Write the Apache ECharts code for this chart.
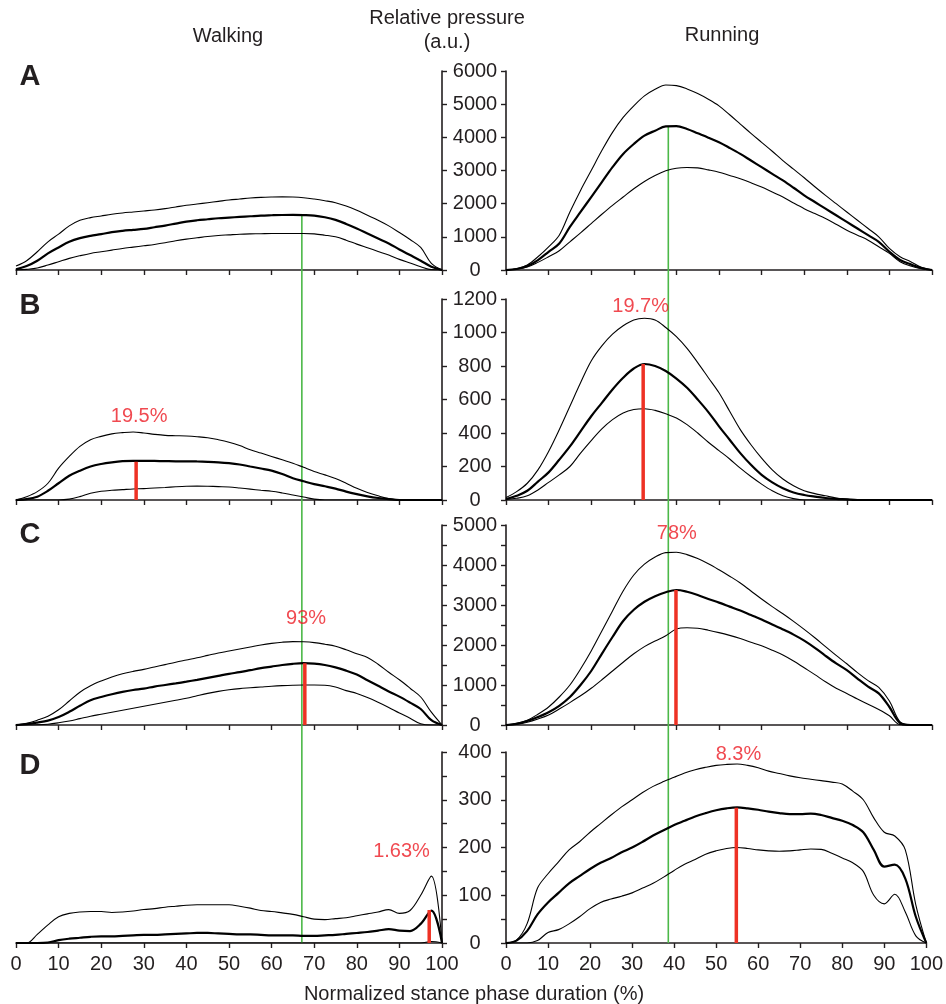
<!DOCTYPE html>
<html>
<head>
<meta charset="utf-8">
<script src="https://cdn.jsdelivr.net/npm/echarts@6/dist/echarts.min.js"></script>
<style>
html, body { margin: 0; padding: 0; background: #fff; }
#chart { width: 946px; height: 1004px; }
</style>
</head>
<body>
<div id="chart"></div>
<script>
// normalized stance phase (%)
var X = [0,2.5,5,7.5,10,12.5,15,17.5,20,22.5,25,27.5,30,32.5,35,37.5,40,42.5,45,47.5,50,52.5,55,57.5,60,62.5,65,67.5,70,72.5,75,77.5,80,82.5,85,87.5,90,92.5,95,97.5,100];

// A - walking (upper, mean, lower)
var wAu = [120,280,550,850,1080,1330,1500,1580,1630,1680,1720,1750,1780,1810,1850,1900,1950,1990,2030,2070,2110,2140,2170,2190,2200,2205,2200,2180,2140,2090,2030,1930,1800,1650,1500,1330,1130,920,680,200,0];
var wAm = [20,120,280,500,680,850,960,1030,1080,1140,1180,1210,1240,1290,1340,1400,1460,1500,1530,1560,1580,1600,1620,1640,1650,1658,1660,1655,1640,1590,1510,1390,1250,1100,950,800,620,450,280,100,0];
var wAl = [0,20,60,150,250,350,430,500,550,600,650,690,730,770,820,880,930,970,1010,1040,1060,1080,1090,1095,1100,1100,1100,1100,1090,1050,1000,900,780,670,560,450,320,210,100,10,0];
// A - running
var rAu = [0,40,150,400,700,1050,1750,2400,3000,3600,4150,4600,4950,5250,5450,5580,5560,5460,5320,5150,4950,4680,4400,4120,3850,3580,3300,3040,2780,2510,2250,2000,1750,1500,1250,1000,650,400,250,80,0];
var rAm = [0,30,120,300,550,800,1300,1750,2200,2650,3100,3500,3800,4050,4200,4330,4340,4250,4120,3990,3850,3680,3500,3300,3100,2900,2700,2480,2250,2050,1850,1650,1450,1250,1050,850,550,300,170,60,0];
var rAl = [0,30,90,230,400,580,850,1120,1400,1680,1950,2200,2450,2670,2850,2990,3070,3090,3080,3020,2950,2850,2750,2630,2500,2350,2200,2020,1850,1700,1550,1380,1200,1050,900,700,500,250,120,40,0];

// B - walking
var wBu = [0,20,50,100,190,260,320,360,380,395,402,406,400,392,386,384,382,378,372,360,345,325,300,280,260,240,220,195,170,150,128,100,70,45,25,8,0,0,0,0,0];
var wBm = [0,5,20,55,100,145,175,200,215,225,232,234,234,233,232,231,231,230,228,225,220,212,200,188,175,155,130,112,95,82,68,50,35,22,12,5,0,0,0,0,0];
var wBl = [0,0,0,0,0,5,20,40,52,58,62,66,68,72,75,79,82,83,82,80,78,72,65,58,52,42,30,18,5,0,0,0,0,0,0,0,0,0,0,0,0];
// B - running
var rBu = [15,50,100,180,290,420,560,700,830,920,990,1040,1075,1085,1075,1030,975,905,820,730,640,530,420,330,250,180,125,85,55,38,25,12,5,0,0,0,0,0,0,0,0];
var rBm = [5,25,55,110,165,240,320,410,500,580,660,730,785,812,800,770,725,670,600,525,440,360,280,210,150,105,70,45,30,20,12,7,4,0,0,0,0,0,0,0,0];
var rBl = [3,10,25,60,105,150,200,280,355,425,480,520,540,545,535,515,490,450,400,345,295,245,190,140,95,55,25,8,0,0,0,0,0,0,0,0,0,0,0,0,0];

// C - walking
var wCu = [0,40,120,220,380,600,820,980,1100,1200,1280,1340,1390,1450,1510,1570,1625,1680,1740,1800,1850,1900,1950,2000,2040,2070,2085,2080,2060,2020,1970,1880,1780,1690,1520,1320,1130,920,700,320,0];
var wCm = [0,20,60,110,200,330,480,620,700,770,830,875,910,960,1000,1040,1083,1130,1180,1230,1280,1320,1370,1420,1460,1500,1530,1545,1535,1500,1440,1360,1260,1120,980,840,710,560,400,120,0];
var wCl = [0,0,5,20,55,100,160,220,270,320,370,420,470,520,570,620,667,730,790,840,880,910,930,950,970,985,995,1000,1000,995,950,860,790,690,570,440,300,170,30,0,0];
// C - running
var rCu = [0,40,120,270,450,700,1000,1400,1850,2350,2850,3350,3750,4020,4200,4310,4320,4260,4160,4030,3880,3720,3550,3350,3150,2960,2780,2590,2390,2180,1960,1740,1530,1310,1110,940,600,80,0,0,0];
var rCm = [0,30,100,200,320,480,700,1000,1350,1780,2200,2600,2880,3080,3220,3320,3375,3330,3250,3150,3060,2960,2860,2750,2640,2510,2390,2260,2110,1930,1730,1540,1370,1160,960,790,450,50,0,0,0];
var rCl = [0,20,70,150,250,400,560,730,920,1130,1350,1570,1780,1960,2100,2230,2400,2430,2420,2370,2310,2240,2160,2070,1980,1870,1750,1600,1430,1260,1080,920,790,650,520,390,230,10,0,0,0];

// D - walking
var wDu = [0,0,18,38,55,62,65,66,66,64,65,67,70,72,75,77,79,80,80,80,80,77,73,68,66,63,60,55,50,49,51,53,57,61,65,70,62,68,100,140,0];
var wDm = [0,0,0,1,6,9,11,13,14,14,15,16,17,17,18,19,20,21,21,20,19,18,18,17,16,16,16,15,15,16,17,19,21,23,26,29,26,25,40,68,0];
var wDl = [0,0,0,0,0,0,0,0,0,0,0,0,0,0,0,0,0,0,0,0,0,0,0,0,0,0,0,0,0,0,0,0,0,0,0,0,0,0,0,3,0];
// D - running
var rDu = [0,6,40,115,145,170,195,212,232,250,268,285,300,315,328,338,347,356,363,368,372,374,375,372,367,360,355,350,346,343,340,337,333,318,300,262,232,224,195,80,0];
var rDm = [0,5,25,60,85,105,125,140,155,168,178,190,200,212,225,236,247,256,265,272,278,282,284,282,279,275,272,270,270,271,268,262,256,247,232,195,160,164,135,55,0];
var rDl = [0,0,0,5,22,28,40,55,72,85,92,98,105,115,125,138,152,165,175,186,193,198,200,198,195,193,192,193,195,197,196,188,178,168,150,100,82,102,65,15,0];

// y axis ranges per row (A..D)
var yMax = [6000, 1200, 5000, 400];
var yStep = [1000, 200, 1000, 100];
var yMinor = [false, false, true, true];

// peak markers (panel index, x, peak value, text)
var markPanel = [2, 3, 4, 5, 6, 7];
var markX = [28.2, 32.2, 67.8, 39.9, 97, 54.8];
var markTop = [229, 812, 1542, 3375, 69, 283];
var markText = ['19.5%', '19.7%', '93%', '78%', '1.63%', '8.3%'];
// where the marker texts sit (data space)
var markLabelAt = [[28.9, 497], [31.6, 1158], [68.1, 2675], [40.1, 4800], [90.5, 191], [55.3, 395]];

// green reference lines: walking, running
var greenX = [67.1, 38.1];
var greenFrom = [1655, 4340];

var panels = [
    [wAu, wAm, wAl], [rAu, rAm, rAl],
    [wBu, wBm, wBl], [rBu, rBm, rBl],
    [wCu, wCm, wCl], [rCu, rCm, rCl],
    [wDu, wDm, wDl], [rDu, rDm, rDl]
];

var FONT = 'Liberation Sans, Arial, Helvetica, sans-serif';
var INK = '#231f20';
var gridLeft = [16, 506];
var gridTop = [71, 299, 525, 752];
var gridH = [199, 201, 200, 191];

function pts(arr) {
    return X.map(function (x, i) { return [x, arr[i]]; });
}

var grids = [], xAxes = [], yAxes = [], series = [];
for (var p = 0; p < 8; p++) {
    var row = Math.floor(p / 2), col = p % 2;
    grids.push({left: gridLeft[col], top: gridTop[row], width: 426, height: gridH[row]});
    xAxes.push({
        type: 'value', gridIndex: p, min: 0, max: 100, interval: 10,
        axisLine: {onZero: false, lineStyle: {color: INK, width: 1.6}},
        axisTick: {show: true, length: 5, lineStyle: {color: INK, width: 1.4}},
        axisLabel: {show: row === 3, color: INK, fontSize: 20, fontFamily: FONT, margin: 11,
            showMinLabel: true, showMaxLabel: true},
        splitLine: {show: false}
    });
    yAxes.push({
        type: 'value', gridIndex: p, min: 0, max: yMax[row], interval: yStep[row],
        position: col === 0 ? 'right' : 'left',
        axisLine: {show: true, onZero: false, lineStyle: {color: INK, width: 1.6}},
        axisTick: {show: true, length: 5, lineStyle: {color: INK, width: 1.4}},
        minorTick: {show: yMinor[row], splitNumber: 2, length: 5, lineStyle: {color: INK, width: 1.4}},
        axisLabel: {show: col === 1, color: INK, fontSize: 20, fontFamily: FONT, margin: 31, align: 'center',
            formatter: function (v) { return String(v); }},
        splitLine: {show: false}
    });
    var set = panels[p];
    for (var k = 0; k < 3; k++) {
        series.push({
            type: 'line', xAxisIndex: p, yAxisIndex: p, data: pts(set[k]),
            showSymbol: false, smooth: 0.35, silent: true, z: 3,
            lineStyle: {color: '#000', width: k === 1 ? 2.2 : 1.1}
        });
    }
}

for (var m = 0; m < markPanel.length; m++) {
    var gi = markPanel[m];
    series.push({
        type: 'line', xAxisIndex: gi, yAxisIndex: gi, showSymbol: false, silent: true, z: 4,
        data: [[markX[m], 0], [markX[m], markTop[m]]],
        lineStyle: {color: '#ee3124', width: 3.5}
    });
    series.push({
        type: 'scatter', xAxisIndex: gi, yAxisIndex: gi, symbolSize: 0, silent: true, z: 5,
        data: [markLabelAt[m]],
        label: {show: true, position: 'inside', formatter: markText[m],
            color: '#ec1c24', fontSize: 20, fontFamily: FONT}
    });
}

var texts = [
    ['Walking', 228, 36, 'normal', 20],
    ['Relative pressure', 447, 18, 'normal', 20],
    ['(a.u.)', 447, 42, 'normal', 20],
    ['Running', 722, 35, 'normal', 20],
    ['A', 30, 77, 'bold', 29],
    ['B', 30, 306, 'bold', 29],
    ['C', 30, 535, 'bold', 29],
    ['D', 30, 766, 'bold', 29],
    ['Normalized stance phase duration (%)', 474, 994, 'normal', 20]
];
var graphic = texts.map(function (t, i) {
    return {
        type: 'text', id: 'txt' + i, x: t[1], y: t[2], silent: true,
        style: {text: t[0], fill: INK, font: t[3] + ' ' + t[4] + 'px ' + FONT,
            textAlign: 'center', textVerticalAlign: 'middle'}
    };
});

var chart = echarts.init(document.getElementById('chart'));
chart.setOption({
    animation: false,
    backgroundColor: '#fff',
    grid: grids,
    xAxis: xAxes,
    yAxis: yAxes,
    series: series,
    graphic: graphic
});

// green lines run from the top row down to the bottom row
var lines = [];
for (var c = 0; c < 2; c++) {
    var p1 = chart.convertToPixel({gridIndex: c}, [greenX[c], greenFrom[c]]);
    var p2 = chart.convertToPixel({gridIndex: 6 + c}, [greenX[c], 0]);
    lines.push({
        type: 'line', id: 'green' + c, silent: true, z: 1,
        shape: {x1: p1[0], y1: p1[1], x2: p1[0], y2: p2[1]},
        style: {stroke: '#4cb848', lineWidth: 1.6}
    });
}
chart.setOption({graphic: lines});
</script>
</body>
</html>
